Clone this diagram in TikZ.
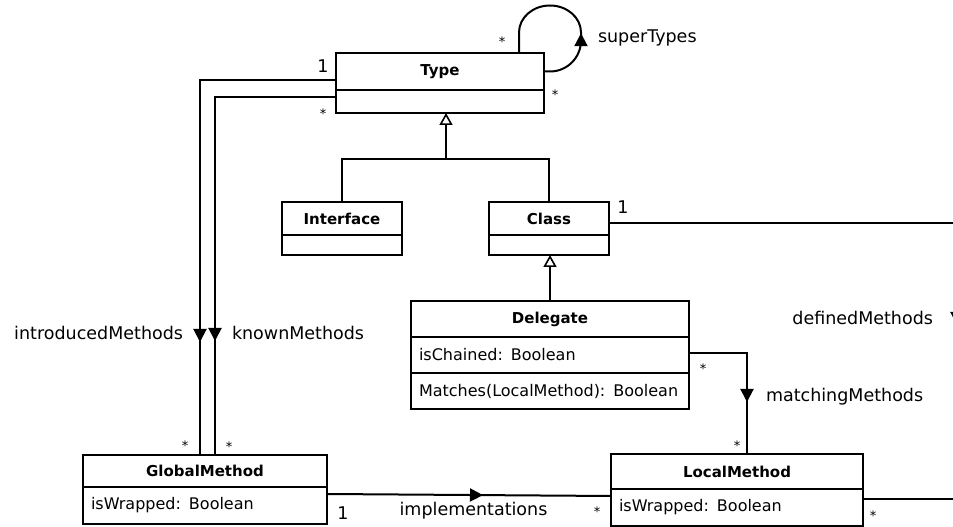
\documentclass[tikz,border=0pt]{standalone}
\usepackage{fontspec}
\setmainfont{DejaVu Sans}
\usetikzlibrary{arrows.meta,decorations.markings}

\begin{document}
\begin{tikzpicture}[x=1pt,y=1pt,line width=2pt,
  head/.style={draw,anchor=north west,inner sep=0pt,outer sep=0pt,font=\fontsize{15}{18}\selectfont\bfseries},
  row/.style={draw,anchor=north west,inner xsep=8pt,inner ysep=0pt,outer sep=0pt,align=left,font=\fontsize{16}{19}\selectfont},
  lbl/.style={font=\fontsize{17.5}{20}\selectfont,inner sep=0pt},
  mult/.style={font=\fontsize{13}{15}\selectfont,inner sep=0pt},
  inh/.style={-{Triangle[open,length=12pt,width=13pt,line width=1.6pt]}},
  midarrow/.style={postaction={decorate},decoration={markings,mark=at position #1 with {\arrow{Triangle[length=13pt,width=13pt]}}}}]
\useasboundingbox (0,0) rectangle (953,527);
\clip (0,0) rectangle (953,527);

\node[head,minimum width=208,minimum height=37] (typehead) at (336,474) {Type};
\node[row,minimum width=208,minimum height=23] (typeattr) at (typehead.south west) {};
\node[head,minimum width=120,minimum height=33] (ifhead) at (282,325) {Interface};
\node[row,minimum width=120,minimum height=20] (ifattr) at (ifhead.south west) {};
\node[head,minimum width=120,minimum height=33] (classhead) at (489,325) {Class};
\node[row,minimum width=120,minimum height=20] (classattr) at (classhead.south west) {};
\node[head,minimum width=278,minimum height=36] (delhead) at (411,226) {Delegate};
\node[row,text width=262,minimum height=36] (delrow1) at (delhead.south west) {isChained: Boolean};
\node[row,text width=262,minimum height=36] (delrow2) at (delrow1.south west) {Matches(LocalMethod): Boolean};
\node[head,minimum width=244,minimum height=32] (gmhead) at (83,72) {GlobalMethod};
\node[row,text width=228,minimum height=37] (gmrow) at (gmhead.south west) {isWrapped: Boolean};
\node[head,minimum width=252,minimum height=35] (lmhead) at (611,73) {LocalMethod};
\node[row,text width=236,minimum height=37] (lmrow) at (lmhead.south west) {isWrapped: Boolean};

\coordinate (tjoin) at (446,368);
\draw (ifhead.north) |- (tjoin) -| (classhead.north);
\draw[inh] (tjoin) -- (tjoin |- typeattr.south);
\draw[inh] (delhead.north) -- (delhead.north |- classattr.south);

\draw[midarrow=62pt] (typehead.east) -- ++(6,0) arc[start angle=-90,end angle=0,radius=31pt] -- ++(0,8) arc[start angle=0,end angle=180,x radius=31pt,y radius=27pt] -- ([xshift=79pt]typehead.north);
\draw[midarrow=398pt] ([yshift=-8.5pt]typehead.west) -| ([xshift=-5pt]gmhead.north);
\draw[midarrow=365pt] ([yshift=4.5pt]typeattr.west) -| ([xshift=10pt]gmhead.north);
\draw[midarrow=107pt] ([yshift=2pt]delrow1.east) -| ([xshift=10pt]lmhead.north);
\draw[midarrow=156pt] ([yshift=11.5pt]gmrow.east) -- ([yshift=11.5pt]lmrow.west);
\coordinate (lmout) at ([yshift=8.5pt]lmrow.east);
\coordinate (rail) at (957,0);
\draw[midarrow=450pt] ([yshift=-4.5pt]classhead.east) -| (rail |- lmout) -- (lmout);

\node[lbl,anchor=west] (lsuper) at (597,489) {superTypes};
\node[mult] (msub) at (502,485.5) {*};
\node[mult] (msup) at (555,432.5) {*};
\node[lbl] (mintro1) at (323,461) {1};
\node[mult] (mknown1) at (323,413.5) {*};
\node[lbl,anchor=east] (lintro) at (184,194) {introducedMethods};
\node[lbl,anchor=west] (lknown) at (231,194) {knownMethods};
\node[mult] (mintro2) at (185,81.5) {*};
\node[mult] (mknown2) at (229,80.5) {*};
\node[lbl] (mdef1) at (623,320) {1};
\node[lbl,anchor=east] (ldef) at (934,209) {definedMethods};
\node[mult] (mmatch1) at (703,158.5) {*};
\node[lbl,anchor=west] (lmatch) at (765,130) {matchingMethods};
\node[mult] (mmatch2) at (737,81.5) {*};
\node[lbl] (mimpl1) at (343,14) {1};
\node[lbl] (limpl) at (473.5,16) {implementations};
\node[mult] (mimpl2) at (597,15.5) {*};
\node[mult] (mdef2) at (873,11.5) {*};
\end{tikzpicture}
\end{document}
